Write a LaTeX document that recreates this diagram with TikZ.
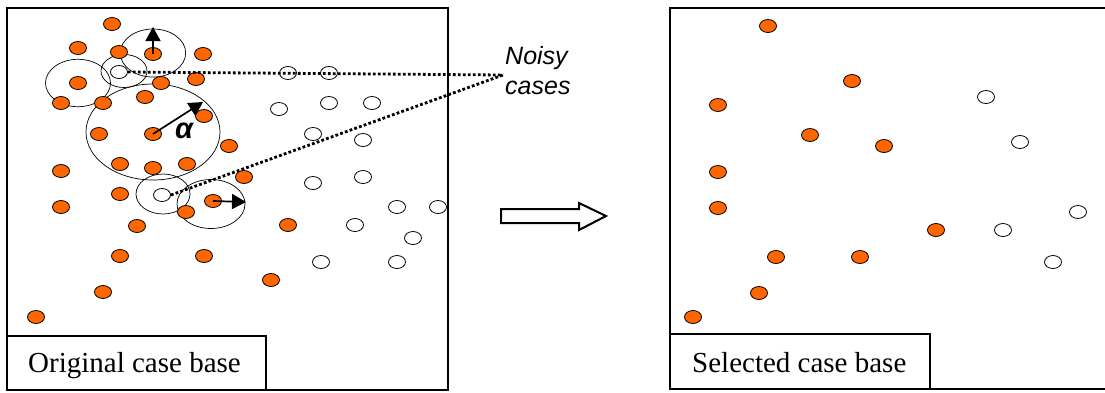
\documentclass[tikz,border=0pt]{standalone}
\usepackage{fontspec}
\setmainfont{Liberation Serif}
\newfontfamily\arialfont{Liberation Sans}
\usetikzlibrary{arrows.meta,shapes.geometric}
\definecolor{dotorange}{RGB}{255,102,0}
\begin{document}
\begin{tikzpicture}[x=1pt,y=-1pt,
  casedot/.style={ellipse,draw=black,line width=0.8pt,minimum width=17pt,minimum height=13pt,inner sep=0pt},
  od/.style={casedot,fill=dotorange},
  wd/.style={casedot,fill=white},
  frame/.style={draw=black,line width=2pt},
  lbox/.style={draw=black,line width=1.5pt},
  ring/.style={draw=black,line width=0.7pt},
  radius arrow/.style={line width=1.7pt,-{Triangle[length=14pt,width=15pt]}},
  noisyline/.style={line width=2.8pt,dash pattern=on 2.8pt off 2.2pt},
  lbl/.style={font=\fontsize{29}{34}\selectfont,inner sep=0pt,anchor=base west}]
\useasboundingbox (0,0) rectangle (1105,392);
\fill[white] (0,0) rectangle (1105,392);

% frames
\draw[frame] (7,8) rectangle (448,390);
\draw[lbox] (7,336) rectangle (266,390);
\draw[frame] (670,7.5) rectangle (1110,389);
\draw[lbox] (670,334) rectangle (930,389);
\node[lbl] (t1) at (28,372) {Original case base};
\node[lbl] (t2) at (692,372) {Selected case base};

% rings (neighbourhoods)
\draw[ring] (78,83) ellipse [x radius=32.5,y radius=23.7];
\draw[ring] (124,71) ellipse [x radius=23,y radius=16.5];
\draw[ring] (153,53) ellipse [x radius=32.7,y radius=24];
\draw[ring] (153,132) ellipse [x radius=67,y radius=48];
\draw[ring] (163,194) ellipse [x radius=27,y radius=20];
\draw[ring] (211,204) ellipse [x radius=34,y radius=24.5];

% left: orange cases
\foreach \x/\y [count=\i] in {112/24,78/48,119/52,153/54,203/54,78/83,161/83,196/79,61/103,103/103,145/97,204/116,99/134,153/134,229/146,61/171,120/164,153/168,187/164,244/177,61/207,120/194,186/212,137/226,120/256,204/256,103/292,36/317,288/225,271/280,213/201}
  \node[od] (lo\i) at (\x,\y) {};
% left: white cases
\foreach \x/\y [count=\i] in {119/72,162/195,288/73,329/73,279/109,329/103,372/103,313/134,363/140,313/183,363/177,397/207,438/207,355/225,413/238,321/262,397/262}
  \node[wd] (lw\i) at (\x,\y) {};

% radius arrows
\coordinate (tipA) at (153,27);
\coordinate (tipB) at (203,102);
\coordinate (tipC) at (246,202);
\draw[radius arrow] (lo4.center) -- (tipA);
\draw[radius arrow] (lo14.center) -- (tipB);
\draw[radius arrow] (lo31.center) -- (tipC);
\node[font=\arialfont\bfseries\itshape\fontsize{29}{32}\selectfont,inner sep=0pt] (alpha) at (184,131) {α};

% noisy label and dotted pointers
\node[font=\arialfont\itshape\fontsize{25}{30}\selectfont,align=left,inner sep=0pt,anchor=north west] (noisy) at (505,46) {Noisy\\cases};
\coordinate (nc) at (503,75);
\draw[noisyline] (lw1.east) -- (nc);
\draw[noisyline] (lw2.east) -- (nc);

% block arrow
\draw[line width=2pt,line join=miter] (501,209) -- (579,209) -- (579,203) -- (606,216) -- (579,230) -- (579,223) -- (501,223) -- cycle;

% right: orange cases
\foreach \x/\y [count=\i] in {768/26,852/81,718/105,810/135,884/146,718/172,718/208,776/257,860/257,759/293,693/317,936/230}
  \node[od] (ro\i) at (\x,\y) {};
% right: white cases
\foreach \x/\y [count=\i] in {986/97,1020/142,1078/212,1003/230,1053/262}
  \node[wd] (rw\i) at (\x,\y) {};
\end{tikzpicture}
\end{document}
